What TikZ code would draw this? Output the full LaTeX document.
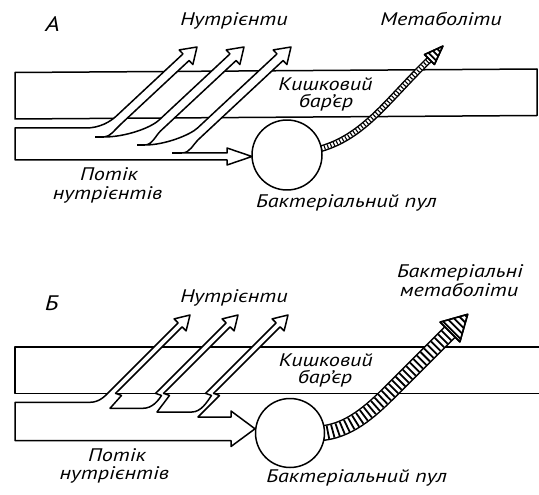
\documentclass[tikz,border=0pt]{standalone}
\usepackage{fontspec}
\newfontfamily\labfont[FakeStretch=1.22]{PT Sans}
\usetikzlibrary{decorations.markings}
\begin{document}
\begin{tikzpicture}[x=1pt,y=-1pt,line join=round,
  ol/.style={line width=1.5pt},
  lbl/.style={font=\labfont\itshape\fontsize{18.2}{20}\selectfont,inner sep=0pt,anchor=base},
  big/.style={font=\labfont\itshape\fontsize{21}{22}\selectfont,inner sep=0pt,anchor=base},
  pool/.style={circle,draw,line width=1.5pt,fill=white,inner sep=0pt,minimum size=70pt}]
\fill[white] (0,0) rectangle (539,495);
\useasboundingbox (0,0) rectangle (539,495);

% ---------------- Panel A ----------------
\draw[ol] (15,72.5) -- (537,69) -- (537,115.5) -- (15,119) -- cycle;

\filldraw[ol,fill=white] (15,160) -- (15,128) -- (86,128) .. controls (100,128) and (110.56,121.46) .. (116.41,116)
 -- (182.96,53.94) -- (179.21,49.92) -- (197,47) -- (192.85,64.54) -- (189.10,60.52) -- (119.95,125)
 .. controls (114.83,129.77) and (110,137) .. (104,137)
 .. controls (125,137) and (150.34,128.18) .. (159.12,120)
 -- (229.96,53.94) -- (226.21,49.92) -- (244,47) -- (239.85,64.54) -- (236.10,60.52) -- (160.52,131)
 .. controls (156.13,135.09) and (152,145) .. (145,145)
 .. controls (165,145) and (190.23,134.82) .. (197.54,128)
 -- (276.96,53.94) -- (273.21,49.92) -- (291,47) -- (286.85,64.54) -- (283.10,60.52) -- (197.87,140)
 .. controls (193.48,144.09) and (190,153) .. (182,153)
 -- (227,153) -- (227,148) -- (252,156.5) -- (227,165) -- (227,160) -- cycle;
\draw[ol] (95,137) -- (104,137) (137,145) -- (145,145) (172,153) -- (182,153);

% metabolites A (beaded)
\path[draw,line width=6.8pt,
  postaction={draw=white,line width=3.8pt},
  postaction={decorate,decoration={markings,
    mark=between positions 0 and 1 step 3.3pt with {\draw[line width=1.1pt] (0,-2pt) -- (0,2pt);}}}]
  (312,151) .. controls (335,146) and (352,136) .. (370,120) .. controls (388,104) and (408,80) .. (429.5,59.5);
\filldraw[ol,fill=white] (424.55,54.55) -- (442.9,46.1) -- (434.45,64.45) -- cycle;
\begin{scope}
  \clip (424.55,54.55) -- (442.9,46.1) -- (434.45,64.45) -- cycle;
  \foreach \s in {4,8.5,13} \draw[line width=1.8pt] ({424.55+0.7071*\s-6},{54.55-0.7071*\s-6}) -- ({434.45+0.7071*\s+6},{64.45-0.7071*\s+6});
\end{scope}
\draw[ol] (424.55,54.55) -- (442.9,46.1) -- (434.45,64.45) -- cycle;

\node[pool] (poolA) at (287,155) {};

\node[big] (labA) at (52.4,31.7) {А};
\node[lbl] (nutA) at (234,25.7) {Нутрієнти};
\node[lbl] (metA) at (441,25.7) {Метаболіти};
\node[lbl] (barA1) at (325.5,91) {Кишковий};
\node[lbl] (barA2) at (326,108) {бар’єр};
\node[lbl] (flowA1) at (109,181) {Потік};
\node[lbl] (flowA2) at (107.5,199.5) {нутрієнтів};
\node[lbl] (poolAt) at (346.4,207.5) {Бактеріальний пул};

% ---------------- Panel B ----------------
\draw[ol] (539,347) -- (15,347) -- (15,393.3) -- (539,393.3);

\filldraw[ol,fill=white] (15,440.7) -- (15,402.3) -- (90,402.3) .. controls (100,402.3) and (105.8,395.2) .. (110,391)
 -- (178.12,322.92) -- (174.09,318.89) -- (190,315) -- (186.11,330.91) -- (182.08,326.88)
 -- (119,390) -- (115.5,393.3) -- (121.5,395.5) -- (110,408.3) -- (143,408.3)
 .. controls (152,408.3) and (158,401) .. (161.5,395.5) -- (155.5,393.3) -- (159,390)
 -- (226.12,322.92) -- (222.09,318.89) -- (238,315) -- (234.11,330.91) -- (230.08,326.88)
 -- (167,390) -- (163.5,393.3) -- (169.5,395.5) -- (157,412) -- (192,412)
 .. controls (201,412) and (207,402) .. (211.5,395.5) -- (205.5,393.3) -- (209,390)
 -- (276.12,322.92) -- (272.09,318.89) -- (288,315) -- (284.11,330.91) -- (280.08,326.88)
 -- (217,390) -- (213.5,393.3) -- (219.5,395.5) -- (198,417) -- (231,417) -- (231,411)
 -- (255,428.8) -- (231,446.5) -- (231,440.7) -- cycle;

% metabolites B (hatched)
\path[draw,line width=16pt,
  postaction={draw=white,line width=13pt},
  postaction={decorate,decoration={markings,
    mark=between positions 0 and 1 step 5pt with {\draw[line width=1.8pt] (0,-6.6pt) -- (0,6.6pt);}}}]
  (318,433.5) .. controls (348,432) and (370,412) .. (392,390) -- (450,332);
\filldraw[ol,fill=white] (440.1,322.1) -- (467.7,314.3) -- (459.9,341.9) -- cycle;
\begin{scope}
  \clip (440.1,322.1) -- (467.7,314.3) -- (459.9,341.9) -- cycle;
  \foreach \s in {2.5,7.5,...,26} \draw[line width=1.8pt] ({440.1+0.7071*\s-10},{322.1-0.7071*\s-10}) -- ({459.9+0.7071*\s+10},{341.9-0.7071*\s+10});
\end{scope}
\draw[ol] (440.1,322.1) -- (467.7,314.3) -- (459.9,341.9) -- cycle;

\node[pool,minimum size=69pt] (poolB) at (290,433) {};

\node[big] (labB) at (51.6,310) {Б};
\node[lbl] (nutB) at (234,302.5) {Нутрієнти};
\node[lbl] (metB1) at (460,277) {Бактеріальні};
\node[lbl] (metB2) at (459,296.5) {метаболіти};
\node[lbl] (barB1) at (325.8,366) {Кишковий};
\node[lbl] (barB2) at (325,383) {бар’єр};
\node[lbl] (flowB1) at (117,461) {Потік};
\node[lbl] (flowB2) at (114.3,479.5) {нутрієнтів};
\node[lbl] (poolBt) at (356.7,482.6) {Бактеріальний пул};
\end{tikzpicture}
\end{document}
